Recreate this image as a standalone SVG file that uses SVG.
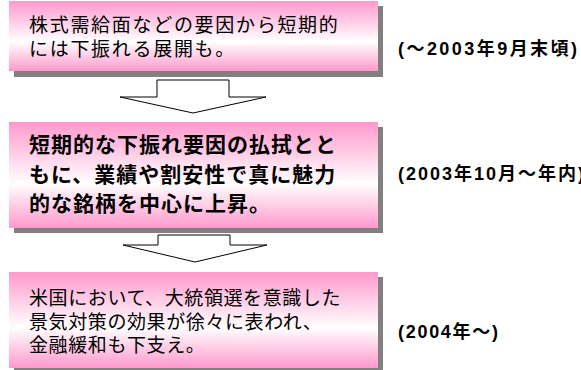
<svg xmlns="http://www.w3.org/2000/svg" width="581" height="370" viewBox="0 0 581 370">
<defs>
<linearGradient id="pink" x1="0" y1="0" x2="0" y2="1">
<stop offset="0" stop-color="#ff99cc"/>
<stop offset="0.58" stop-color="#ffffff"/>
<stop offset="1" stop-color="#ff99cc"/>
</linearGradient>
<style>
.shadow{fill:#808080}
.box{fill:url(#pink)}
.arrow{fill:#ffffff;stroke:#000000;stroke-width:1}
.t{font-family:"Liberation Sans","Noto Sans CJK JP",sans-serif;fill:#000000}
.n{font-size:19px;letter-spacing:1.7px}
.n3{font-size:19px;letter-spacing:0.6px}
.b{font-size:21px;font-weight:bold;letter-spacing:1px}
.lab{font-family:"Liberation Sans","Noto Sans CJK JP",sans-serif;font-size:18px;font-weight:bold;fill:#000000}
</style>
</defs>
<rect width="581" height="370" fill="#ffffff"/>
<g id="node1">
<rect class="shadow" x="14" y="6" width="369" height="71"/>
<rect class="box" x="9" y="1" width="369" height="70"/>
<text class="t n" x="29" y="32">株式需給面などの要因から短期的</text>
<text class="t n" x="29" y="56">には下振れる展開も。</text>
</g>
<g id="node2">
<rect class="shadow" x="14" y="127" width="369" height="106"/>
<rect class="box" x="9" y="122" width="369" height="106"/>
<text class="t b" x="29" y="152">短期的な下振れ要因の払拭とと</text>
<text class="t b" x="29" y="182">もに、業績や割安性で真に魅力</text>
<text class="t b" x="29" y="211">的な銘柄を中心に上昇。</text>
</g>
<g id="node3">
<rect class="shadow" x="14" y="277" width="369" height="96"/>
<rect class="box" x="9" y="272" width="369" height="96"/>
<text class="t n3" x="29" y="305">米国において、大統領選を意識した</text>
<text class="t n3" x="29" y="329">景気対策の効果が徐々に表われ、</text>
<text class="t n3" x="29" y="352">金融緩和も下支え。</text>
</g>
<g id="label1"><text class="lab" x="398" y="55" textLength="179" lengthAdjust="spacing">(～2003年9月末頃)</text></g>
<g id="label2"><text class="lab" x="398" y="180" textLength="186" lengthAdjust="spacing">(2003年10月～年内)</text></g>
<g id="label3"><text class="lab" x="398" y="338" textLength="100" lengthAdjust="spacing">(2004年～)</text></g>
<g id="connectors">
<polygon class="arrow" points="157,80 229,80 229,97 266,97 193,113 120,97 157,97"/>
<polygon class="arrow" points="158,235 230,235 230,245 267,245 195,262 123,245 158,245"/>
</g>
</svg>
